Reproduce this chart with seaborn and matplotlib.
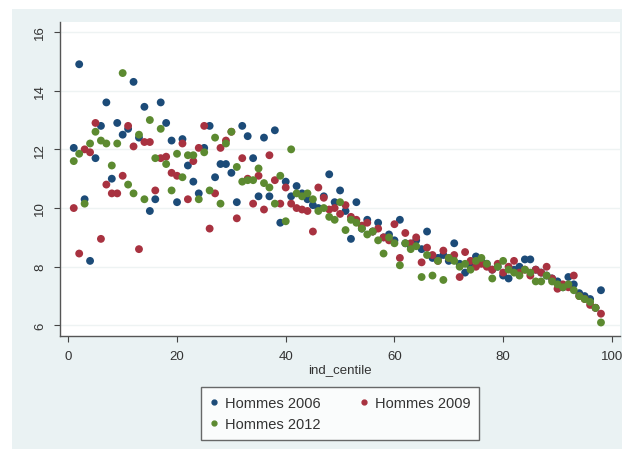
import numpy as np
import pandas as pd
import matplotlib
matplotlib.use("Agg")
import matplotlib.pyplot as plt
from matplotlib.patches import Rectangle
import seaborn as sns

centiles = list(range(1, 99))

hommes_2006 = [12.05, 14.9, 10.3, 8.2, 11.7, 12.8, 13.6, 11.0, 12.9, 12.5,
               12.7, 14.3, 12.4, 13.45, 9.9, 10.3, 13.6, 12.9, 12.3, 10.2,
               12.35, 11.45, 10.9, 10.5, 12.05, 12.8, 11.05, 11.5, 11.5, 11.2,
               10.2, 12.8, 12.45, 11.7, 10.4, 12.4, 10.4, 12.65, 9.5, 10.9,
               10.4, 10.75, 10.5, 10.3, 10.1, 10.0, 10.4, 11.15, 10.2, 10.6,
               9.9, 8.95, 10.2, 9.3, 9.6, 9.2, 9.5, 9.0, 9.1, 8.9,
               9.6, 8.8, 8.7, 8.9, 8.6, 9.2, 8.3, 8.3, 8.4, 8.2,
               8.8, 8.1, 7.8, 8.0, 8.35, 8.2, 8.1, 7.9, 8.0, 7.7,
               7.6, 7.9, 8.0, 8.25, 8.25, 7.9, 7.8, 7.7, 7.6, 7.5,
               7.3, 7.65, 7.4, 7.1, 7.0, 6.9, 6.6, 7.2]

hommes_2009 = [10.0, 8.45, 12.0, 11.9, 12.9, 8.95, 10.8, 10.5, 10.5, 11.1,
               12.8, 12.1, 8.6, 12.25, 12.25, 10.6, 11.7, 11.75, 11.2, 11.1,
               12.2, 10.3, 11.6, 12.05, 12.8, 9.3, 10.5, 12.05, 12.3, 12.6,
               9.65, 11.7, 11.0, 10.15, 11.1, 9.95, 11.8, 10.95, 10.15, 10.7,
               10.15, 10.0, 9.95, 9.9, 9.2, 10.7, 10.35, 9.95, 10.0, 9.8,
               10.1, 9.7, 9.6, 9.4, 9.5, 9.2, 9.3, 9.0, 8.9, 9.45,
               8.3, 9.15, 8.8, 9.0, 8.15, 8.65, 8.4, 8.2, 8.55, 8.3,
               8.4, 7.65, 8.5, 8.2, 8.0, 8.1, 8.0, 7.9, 8.1, 7.8,
               8.0, 8.2, 7.8, 7.9, 7.7, 7.9, 7.8, 8.0, 7.6, 7.25,
               7.4, 7.3, 7.7, 7.0, 6.9, 6.7, 6.6, 6.4]

hommes_2012 = [11.6, 11.85, 10.15, 12.2, 12.6, 12.3, 12.2, 11.45, 12.2, 14.6,
               10.8, 10.5, 12.5, 10.3, 13.0, 11.7, 12.7, 11.5, 10.6, 11.85,
               11.05, 11.8, 11.8, 10.3, 11.9, 10.6, 12.4, 10.15, 12.2, 12.6,
               11.4, 10.9, 10.95, 10.95, 11.35, 10.85, 10.7, 10.15, 11.1, 9.55,
               12.0, 10.5, 10.4, 10.5, 10.3, 9.9, 10.0, 9.7, 9.6, 10.2,
               9.25, 9.6, 9.5, 9.3, 9.1, 9.2, 8.9, 8.45, 9.0, 8.8,
               8.05, 8.8, 8.6, 8.7, 7.65, 8.4, 7.7, 8.2, 7.55, 8.3,
               8.2, 8.0, 8.1, 7.9, 8.2, 8.3, 8.1, 7.6, 8.0, 8.2,
               7.9, 7.8, 7.7, 7.9, 7.8, 7.5, 7.5, 7.7, 7.5, 7.4,
               7.3, 7.4, 7.2, 7.0, 6.9, 6.8, 6.6, 6.1]

series_names = ["Hommes 2006", "Hommes 2009", "Hommes 2012"]
colors = ["#1c4b78", "#a83240", "#5c8a30"]
x_ticks = [0, 20, 40, 60, 80, 100]
y_ticks = [6, 8, 10, 12, 14, 16]

df = pd.concat([
    pd.DataFrame({"ind_centile": centiles, "value": vals, "serie": name})
    for name, vals in zip(series_names, [hommes_2006, hommes_2009, hommes_2012])
], ignore_index=True)

sns.set_theme(style="white")
plt.rcParams["font.family"] = ["Liberation Sans", "DejaVu Sans"]

fig = plt.figure(figsize=(6.26, 4.56), dpi=100, facecolor="white")
bg = Rectangle((12 / 626, 1 - 450 / 456), 610 / 626, 440 / 456,
               transform=fig.transFigure, facecolor="#eaf2f3", edgecolor="none", zorder=-10)
fig.add_artist(bg)

ax = fig.add_axes([60 / 626, 1 - 337 / 456, 560 / 626, 314 / 456])
ax.set_zorder(5)
ax.set_facecolor("white")

for yt in y_ticks:
    ax.axhline(yt, color="#eef3f3", lw=1.0, zorder=0)

sns.scatterplot(data=df, x="ind_centile", y="value", hue="serie",
                hue_order=series_names, palette=colors, s=32, linewidth=0,
                ax=ax, legend=False, zorder=3)

ax.set_xlim(-1.53, 101.5)
ax.set_ylim(5.64, 16.34)
ax.set_xticks(x_ticks)
ax.set_yticks(y_ticks)
ax.set_xticklabels([str(t) for t in x_ticks], fontsize=9.5, color="#333333")
ax.set_yticklabels([str(t) for t in y_ticks], fontsize=9.5, color="#333333",
                   rotation=90, va="center")
ax.tick_params(axis="both", direction="out", length=4, width=0.8, color="#444444", pad=6)
ax.tick_params(axis="x", bottom=True)
ax.tick_params(axis="y", left=True)
for side in ["top", "right"]:
    ax.spines[side].set_visible(False)
for side in ["left", "bottom"]:
    ax.spines[side].set_color("#555555")
    ax.spines[side].set_linewidth(1.0)
ax.set_xlabel("ind_centile", fontsize=9.5, color="#333333", labelpad=1)
ax.set_ylabel("")

handles = [plt.Line2D([], [], marker="o", linestyle="", color=c, markersize=3.5)
           for c in colors]
order = [0, 2, 1]
leg = ax.legend([handles[i] for i in order], [series_names[i] for i in order],
                loc="upper center", bbox_to_anchor=(0.5, -0.162),
                ncol=2, fontsize=10.5, frameon=True, fancybox=False,
                handletextpad=0.4, columnspacing=2.6, borderpad=0.6,
                handlelength=0.7, labelspacing=0.5, borderaxespad=0)
leg.get_frame().set_edgecolor("#444444")
leg.get_frame().set_linewidth(1.0)
for t in leg.get_texts():
    t.set_color("#333333")

fig.savefig("out.png", dpi=100, facecolor="white")
